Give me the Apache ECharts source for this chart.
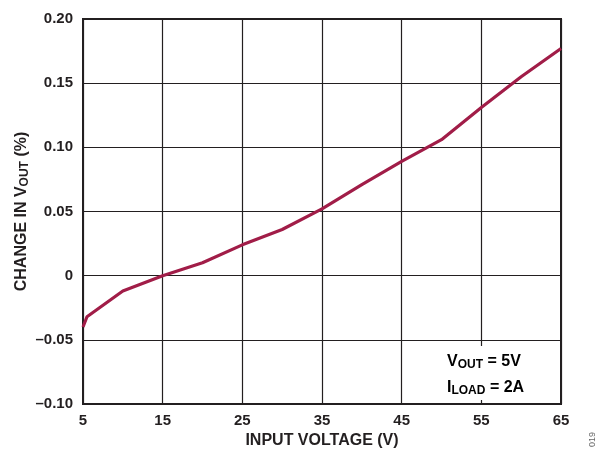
<!DOCTYPE html>
<html>
<head>
<meta charset="utf-8">
<script src="https://cdn.jsdelivr.net/npm/echarts@6/dist/echarts.min.js"></script>
<style>html,body{margin:0;padding:0;background:#fff;}#c{width:603px;height:450px;}</style>
</head>
<body>
<div id="c"></div>
<script>
var inputVoltage = [5, 5.5, 10, 15, 20, 25, 30, 35, 40, 45, 50, 55, 60, 65];
var changeVout   = [-0.040, -0.032, -0.012, 0.000, 0.010, 0.024, 0.036, 0.052, 0.071, 0.089, 0.106, 0.131, 0.155, 0.177];
var xTicks = [5, 15, 25, 35, 45, 55, 65];
var yTicks = [-0.10, -0.05, 0, 0.05, 0.10, 0.15, 0.20];

var FONT = 'Liberation Sans, Arial, Helvetica, sans-serif';
var chart = echarts.init(document.getElementById('c'), null, {renderer: 'canvas'});
var data = inputVoltage.map(function (v, i) { return [v, changeVout[i]]; });

function yLabel(v) {
  if (Math.abs(v) < 1e-9) return '0';
  var s = Math.abs(v).toFixed(2);
  return (v < 0 ? '\u2013' : '') + s;
}

chart.setOption({
  animation: false,
  backgroundColor: '#fff',
  grid: {left: 83, right: 42, top: 19, bottom: 46, outerBoundsMode: 'none', containLabel: false,
    show: true, borderColor: '#231f20', borderWidth: 2, backgroundColor: 'transparent'},
  xAxis: {
    type: 'value', min: 5, max: 65, interval: 10,
    name: 'INPUT VOLTAGE (V)', nameLocation: 'middle', nameGap: 29, nameMoveOverlap: false,
    nameTextStyle: {fontFamily: FONT, fontWeight: 'bold', fontSize: 16, color: '#231f20'},
    axisLine: {show: true, onZero: false, lineStyle: {color: '#231f20', width: 2}},
    axisTick: {show: false},
    axisLabel: {fontFamily: FONT, fontWeight: 'bold', fontSize: 15, color: '#231f20', margin: 9,
      formatter: function (v) { return xTicks.indexOf(v) >= 0 ? String(v) : ''; }},
    splitLine: {show: true, lineStyle: {color: '#231f20', width: 1.2}}
  },
  yAxis: {
    type: 'value', min: -0.10, max: 0.20, interval: 0.05,
    name: '{n|CHANGE IN V}{s|OUT}{n| (%)}', nameLocation: 'middle', nameGap: 52, nameRotate: 90,
    nameMoveOverlap: false,
    nameTextStyle: {
      rich: {
        n: {fontFamily: FONT, fontWeight: 'bold', fontSize: 16, color: '#231f20'},
        s: {fontFamily: FONT, fontWeight: 'bold', fontSize: 12, color: '#231f20', padding: [7, 0, 0, 0]}
      }
    },
    axisLine: {show: true, onZero: false, lineStyle: {color: '#231f20', width: 2}},
    axisTick: {show: false},
    axisLabel: {fontFamily: FONT, fontWeight: 'bold', fontSize: 15, color: '#231f20', margin: 10,
      formatter: function (v) { return yLabel(v); }},
    splitLine: {show: true, lineStyle: {color: '#231f20', width: 1.2}}
  },
  series: [{
    type: 'line', data: data, showSymbol: false, smooth: false,
    lineStyle: {color: '#a11d48', width: 3.2}, z: 5
  }],
  graphic: [
    {type: 'rect', shape: {x: 425, y: 346, width: 134, height: 54}, style: {fill: '#fff'}, z: 10},
    {type: 'text', left: 447, top: 352, z: 11,
      style: {
        text: '{n|V}{s|OUT}{n| = 5V}\n{n|I}{s|LOAD}{n| = 2A}',
        rich: {
          n: {fontFamily: FONT, fontWeight: 'bold', fontSize: 16, color: '#231f20', lineHeight: 26},
          s: {fontFamily: FONT, fontWeight: 'bold', fontSize: 12, color: '#231f20', padding: [7, 0, 0, 0], lineHeight: 26}
        }
      }
    },
    {type: 'text', x: 597, y: 447, rotation: Math.PI / 2, z: 11,
      style: {text: '019', fontFamily: FONT, fontSize: 9, fill: '#666', textVerticalAlign: 'bottom'}}
  ]
});
</script>
</body>
</html>
